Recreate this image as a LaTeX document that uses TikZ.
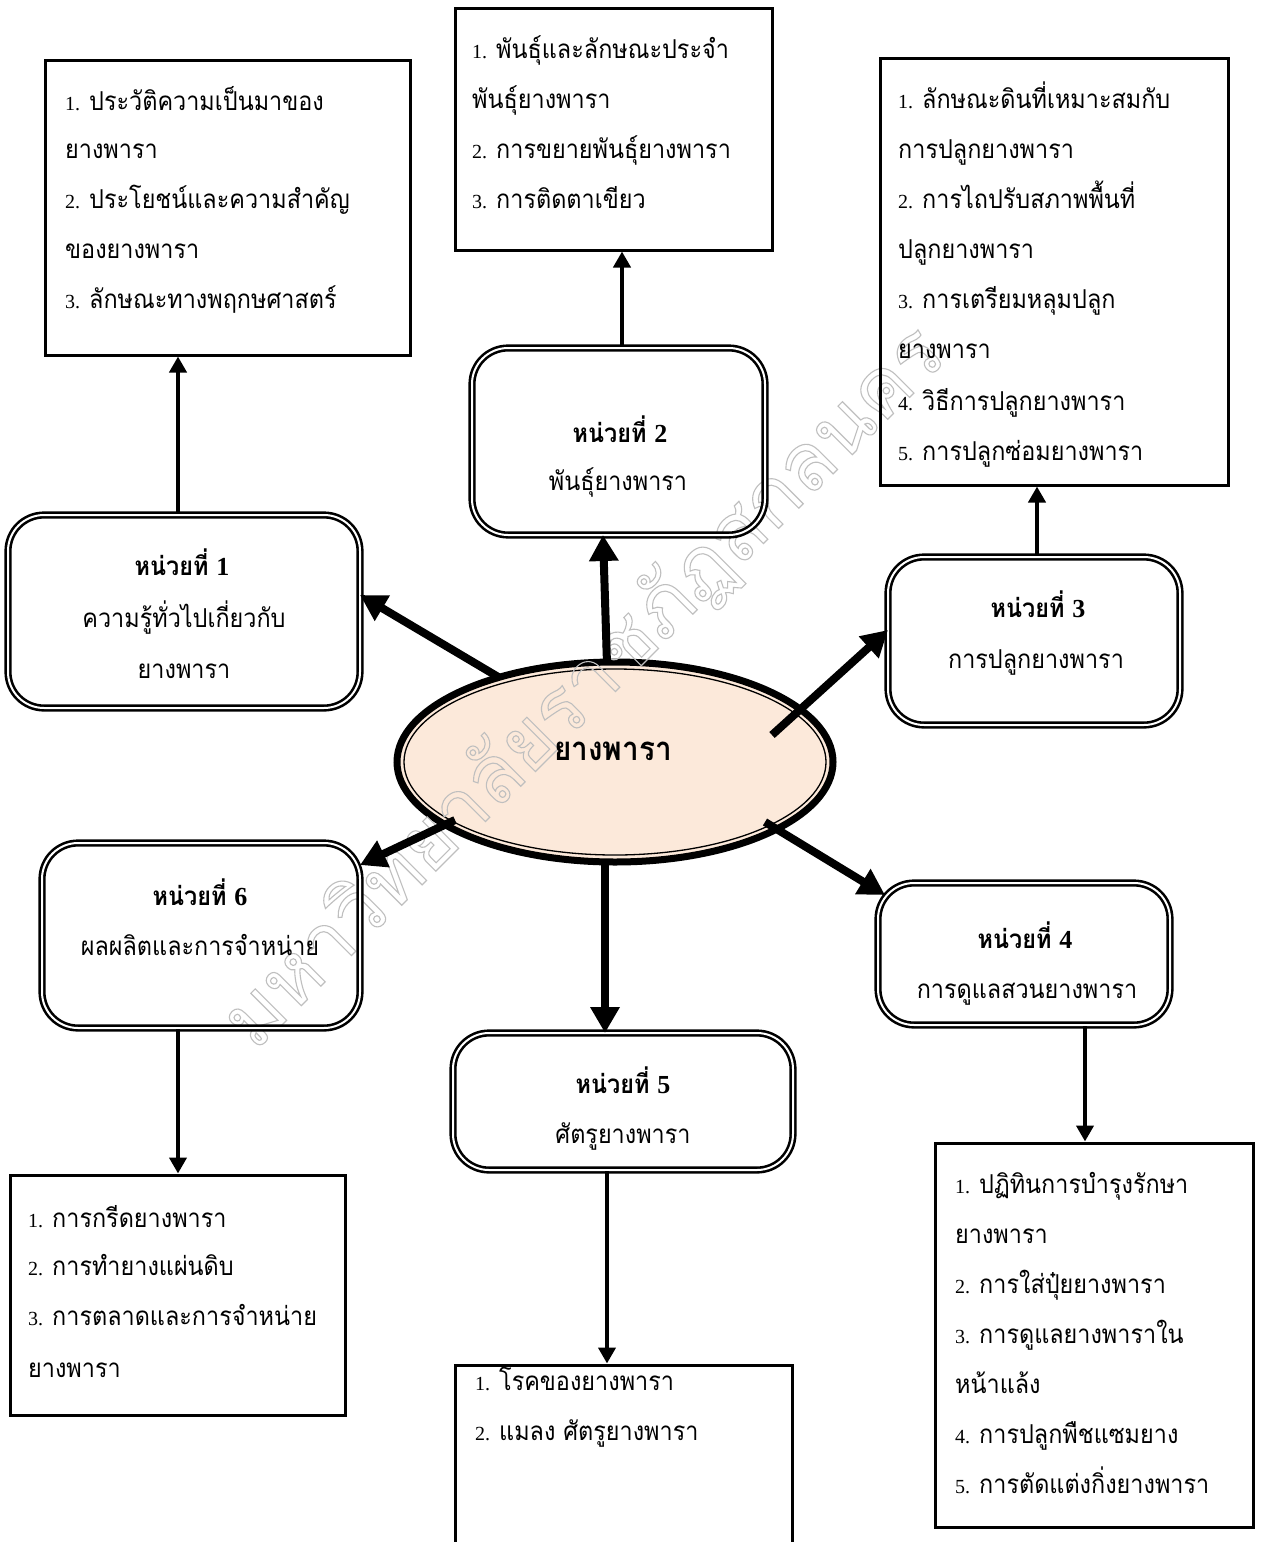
\documentclass[tikz,border=0pt]{standalone}
\usepackage{fontspec}
\usetikzlibrary{arrows.meta,shapes.geometric}
\newfontfamily\thai[Script=Thai,FakeStretch=0.9]{Loma}
\newfontfamily\wmfont[Script=Thai]{Loma}
\newfontfamily\ser{Liberation Serif}
\definecolor{peach}{RGB}{252,233,218}
\newcommand\nm[1]{{\ser\fontsize{20}{24}\selectfont #1}\hspace{9pt}}
\tikzset{
  listbox/.style={draw,line width=3pt,inner sep=0pt},
  unitbox/.style={draw,line width=2.6pt,double,double distance=2pt,rounded corners=36pt,inner sep=0pt},
  txt/.style={anchor=base west,inner sep=0pt,font=\thai\fontsize{26}{30}\selectfont},
  ctxt/.style={anchor=base,inner sep=0pt,font=\thai\fontsize{26}{30}\selectfont},
  head/.style={anchor=base,inner sep=0pt,font=\thai\bfseries\fontsize{26}{30}\selectfont},
  thinarrow/.style={line width=4.5pt,-{Triangle[length=16pt,width=17pt]}},
  thickarrow/.style={line width=8pt,-{Triangle[length=26pt,width=28pt]}},
}
\begin{document}
\begin{tikzpicture}[x=1pt,y=-1pt]
\fill[white] (0,0) rectangle (1265,1542);
\useasboundingbox (0,0) rectangle (1265,1542);

% central ellipse
\node[ellipse,draw,line width=7pt,fill=peach,minimum width=436pt,minimum height=200pt,inner sep=0pt] (ell) at (615,762) {};
\draw[line width=1.3pt] (ell.center) ellipse [x radius=211, y radius=93];

% watermark
\node[rotate=45,text=gray!50,inner sep=0pt,font=\wmfont\fontsize{80}{90}\selectfont] (wm) at (585,688)
  {\special{pdf:literal direct 1 Tr 1.1 w}มหาวิทยาลัยราชภัฏสกลนคร\special{pdf:literal direct 0 Tr}};

\node[head,font=\thai\bfseries\fontsize{33}{36}\selectfont] (ellt) at (613,760) {ยางพารา};

% unit boxes
\node[unitbox,minimum width=352pt,minimum height=193pt] (u1) at (184,611.5) {};
\node[unitbox,minimum width=293pt,minimum height=187pt] (u2) at (618.5,441.5) {};
\node[unitbox,minimum width=292pt,minimum height=168pt] (u3) at (1034,641) {};
\node[unitbox,minimum width=318pt,minimum height=185pt] (u6) at (201,935.5) {};
\node[unitbox,minimum width=292pt,minimum height=142pt] (u4) at (1024,954) {};
\node[unitbox,minimum width=340pt,minimum height=137pt] (u5) at (623,1101.5) {};

% unit texts
\node[head] (u1h) at (182,575) {หน่วยที่ {\ser\bfseries 1}};
\node[ctxt] (u1a) at (184,627) {ความรู้ทั่วไปเกี่ยวกับ};
\node[ctxt] (u1b) at (184,678) {ยางพารา};
\node[head] (u2h) at (620,442) {หน่วยที่ {\ser\bfseries 2}};
\node[ctxt] (u2a) at (618,490) {พันธุ์ยางพารา};
\node[head] (u3h) at (1038,617) {หน่วยที่ {\ser\bfseries 3}};
\node[ctxt] (u3a) at (1036,668) {การปลูกยางพารา};
\node[head] (u6h) at (200,905) {หน่วยที่ {\ser\bfseries 6}};
\node[ctxt] (u6a) at (200,955) {ผลผลิตและการจำหน่าย};
\node[head] (u4h) at (1025,948) {หน่วยที่ {\ser\bfseries 4}};
\node[ctxt] (u4a) at (1027,998) {การดูแลสวนยางพารา};
\node[head] (u5h) at (623,1093) {หน่วยที่ {\ser\bfseries 5}};
\node[ctxt] (u5a) at (623,1143) {ศัตรูยางพารา};

% list boxes
\node[listbox,minimum width=365pt,minimum height=295pt] (L1) at (227.5,207.5) {};
\node[listbox,minimum width=317pt,minimum height=242pt] (L2) at (613.5,129) {};
\node[listbox,minimum width=348pt,minimum height=427pt] (L3) at (1054,271.5) {};
\node[listbox,minimum width=335pt,minimum height=240pt] (L6) at (177.5,1295) {};
\node[listbox,minimum width=337pt,minimum height=200pt] (L5) at (623.5,1465) {};
\node[listbox,minimum width=318pt,minimum height=384pt] (L4) at (1094,1335) {};

% list texts
\node[txt] (t1a) at (65,110) {\nm{1.}ประวัติความเป็นมาของ};
\node[txt] (t1b) at (65,158) {ยางพารา};
\node[txt] (t1c) at (65,208) {\nm{2.}ประโยชน์และความสำคัญ};
\node[txt] (t1d) at (65,258) {ของยางพารา};
\node[txt] (t1e) at (65,308) {\nm{3.}ลักษณะทางพฤกษศาสตร์};

\node[txt] (t2a) at (472,58) {\nm{1.}พันธุ์และลักษณะประจำ};
\node[txt] (t2b) at (472,108) {พันธุ์ยางพารา};
\node[txt] (t2c) at (472,158) {\nm{2.}การขยายพันธุ์ยางพารา};
\node[txt] (t2d) at (472,208) {\nm{3.}การติดตาเขียว};

\node[txt] (t3a) at (898,108) {\nm{1.}ลักษณะดินที่เหมาะสมกับ};
\node[txt] (t3b) at (898,158) {การปลูกยางพารา};
\node[txt] (t3c) at (898,208) {\nm{2.}การไถปรับสภาพพื้นที่};
\node[txt] (t3d) at (898,258) {ปลูกยางพารา};
\node[txt] (t3e) at (898,308) {\nm{3.}การเตรียมหลุมปลูก};
\node[txt] (t3f) at (898,358) {ยางพารา};
\node[txt] (t3g) at (898,410) {\nm{4.}วิธีการปลูกยางพารา};
\node[txt] (t3h) at (898,460) {\nm{5.}การปลูกซ่อมยางพารา};

\node[txt] (t6a) at (28,1227) {\nm{1.}การกรีดยางพารา};
\node[txt] (t6b) at (28,1275) {\nm{2.}การทำยางแผ่นดิบ};
\node[txt] (t6c) at (28,1325) {\nm{3.}การตลาดและการจำหน่าย};
\node[txt] (t6d) at (28,1377) {ยางพารา};

\node[txt] (t5a) at (475,1390) {\nm{1.}โรคของยางพารา};
\node[txt] (t5b) at (475,1440) {\nm{2.}แมลง ศัตรูยางพารา};

\node[txt] (t4a) at (955,1193) {\nm{1.}ปฏิทินการบำรุงรักษา};
\node[txt] (t4b) at (955,1243) {ยางพารา};
\node[txt] (t4c) at (955,1293) {\nm{2.}การใส่ปุ๋ยยางพารา};
\node[txt] (t4d) at (955,1343) {\nm{3.}การดูแลยางพาราใน};
\node[txt] (t4e) at (955,1393) {หน้าแล้ง};
\node[txt] (t4f) at (955,1443) {\nm{4.}การปลูกพืชแซมยาง};
\node[txt] (t4g) at (955,1493) {\nm{5.}การตัดแต่งกิ่งยางพารา};

% thin arrows unit -> list
\draw[thinarrow] ([xshift=-6pt]u1.north) -- ([xshift=-6pt]u1.north |- L1.south);
\draw[thinarrow] ([xshift=3.5pt]u2.north) -- ([xshift=3.5pt]u2.north |- L2.south);
\draw[thinarrow] ([xshift=3pt]u3.north) -- ([xshift=3pt]u3.north |- L3.south);
\draw[thinarrow] ([xshift=-23pt]u6.south) -- ([xshift=-23pt]u6.south |- L6.north);
\draw[thinarrow] ([xshift=-16pt]u5.south) -- ([xshift=-16pt]u5.south |- L5.north);
\draw[thinarrow] ([xshift=61pt]u4.south) -- ([xshift=61pt]u4.south |- L4.north);

% thick arrows ellipse -> units
\draw[thickarrow] ([shift={(-115,-84)}]ell.center) -- ([shift={(176,-16.5)}]u1.center);
\draw[thickarrow] ([shift={(-8,-98)}]ell.center) -- ([shift={(-15.5,93.5)}]u2.center);
\draw[thickarrow] ([shift={(157,-27)}]ell.center) -- ([shift={(-146,-11)}]u3.center);
\draw[thickarrow] ([shift={(-160,58)}]ell.center) -- ([shift={(159,-70.5)}]u6.center);
\draw[thickarrow] ([shift={(-10,100)}]ell.center) -- ([shift={(-18,-68.5)}]u5.center);
\draw[thickarrow] ([shift={(150,60)}]ell.center) -- ([shift={(-139,-59)}]u4.center);
\end{tikzpicture}
\end{document}
